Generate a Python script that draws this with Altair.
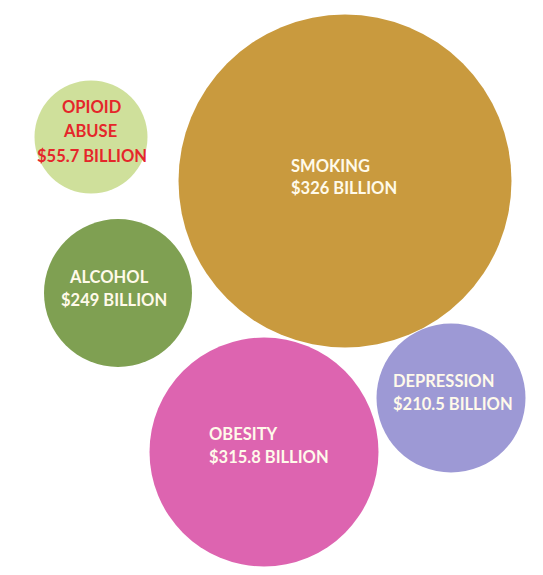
import altair as alt
import pandas as pd

# Bubbles: cost category, cost (billion USD), bubble centre and diameter (px in the picture)
categories = ["Opioid abuse", "Smoking", "Alcohol", "Obesity", "Depression"]
costs = [55.7, 326, 249, 315.8, 210.5]
cx = [91, 345, 118, 264, 451]
cy = [137, 181, 293, 452, 398]
diam = [113, 333, 148, 229, 149]
colors = ["#cfe09b", "#c99a3e", "#7fa052", "#dd64b0", "#9d99d5"]

# Label lines
line_text = ["OPIOID", "ABUSE", "$55.7 BILLION",
             "SMOKING", "$326 BILLION",
             "ALCOHOL", "$249 BILLION",
             "OBESITY", "$315.8 BILLION",
             "DEPRESSION", "$210.5 BILLION"]
line_x = [62, 64, 37, 291, 291, 70, 61, 209, 209, 393, 393]
line_y = [113, 137, 162, 172, 194, 283, 306, 440, 463, 387, 410]
line_color = ["#e5262a"] * 3 + ["#fffaea"] * 8

bubbles = pd.DataFrame({"category": categories, "cost": costs, "x": cx, "y": cy,
                        "size": [d * d for d in diam], "color": colors})
labels = pd.DataFrame({"text": line_text, "x": line_x, "y": line_y, "color": line_color})

xs = alt.Scale(domain=[8, 535])
ys = alt.Scale(domain=[8, 567], reverse=True)

circles = alt.Chart(bubbles).mark_circle(opacity=1).encode(
    x=alt.X("x:Q", scale=xs, axis=None),
    y=alt.Y("y:Q", scale=ys, axis=None),
    size=alt.Size("size:Q", scale=None, legend=None),
    color=alt.Color("color:N", scale=None, legend=None),
    tooltip=["category:N", "cost:Q"],
)

text = alt.Chart(labels).mark_text(
    align="left", baseline="alphabetic", font="Lato", fontWeight="bold", fontSize=16.5
).encode(
    x=alt.X("x:Q", scale=xs, axis=None),
    y=alt.Y("y:Q", scale=ys, axis=None),
    text="text:N",
    color=alt.Color("color:N", scale=None, legend=None),
)

chart = alt.layer(circles, text).properties(
    width=527, height=559, autosize="none", padding=0
).configure_view(stroke=None)

chart.save("out.html", embed_options={"renderer": "svg", "actions": False})
